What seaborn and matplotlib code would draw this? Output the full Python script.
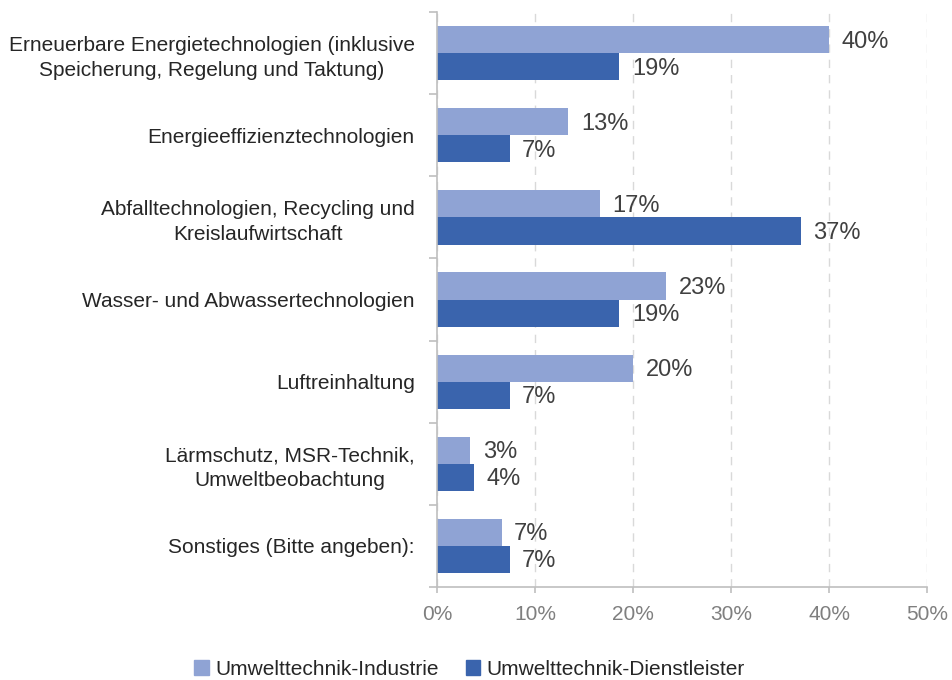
import matplotlib
matplotlib.use('Agg')
import matplotlib.pyplot as plt
from matplotlib.ticker import FixedLocator, PercentFormatter
import seaborn as sns
import pandas as pd
import numpy as np

categories = [
    "Erneuerbare Energietechnologien (inklusive\nSpeicherung, Regelung und Taktung)",
    "Energieeffizienztechnologien",
    "Abfalltechnologien, Recycling und\nKreislaufwirtschaft",
    "Wasser- und Abwassertechnologien",
    "Luftreinhaltung",
    "Lärmschutz, MSR-Technik,\nUmweltbeobachtung",
    "Sonstiges (Bitte angeben):",
]
industrie = [40.0, 13.4, 16.6, 23.4, 20.0, 3.4, 6.6]
dienstleister = [18.6, 7.4, 37.1, 18.6, 7.4, 3.8, 7.4]
series_names = ["Umwelttechnik-Industrie", "Umwelttechnik-Dienstleister"]
x_ticks = [0, 10, 20, 30, 40, 50]

df = pd.DataFrame({
    "Kategorie": categories * 2,
    "Anteil": industrie + dienstleister,
    "Gruppe": [series_names[0]] * len(categories) + [series_names[1]] * len(categories),
})

sns.set_theme(style="white")
plt.rcParams['font.family'] = ['Liberation Sans', 'DejaVu Sans']

palette = {series_names[0]: "#8fa3d4", series_names[1]: "#3a64ad"}
axis_grey = "#bfbfbf"
text_dark = "#404040"

fig = plt.figure(figsize=(9.52, 6.8), dpi=100)
ax = fig.add_axes([0.459, 0.137, 0.515, 0.845])

sns.barplot(data=df, y="Kategorie", x="Anteil", hue="Gruppe", order=categories,
            hue_order=series_names, palette=palette, orient="h", width=0.66,
            linewidth=0, saturation=1, legend=False, ax=ax)

for cont in ax.containers:
    texts = ax.bar_label(cont, labels=[f"{round(v):.0f}%" for v in cont.datavalues],
                         padding=9, fontsize=17, color=text_dark)
    for t in texts:
        t.xyann = (t.xyann[0], -1.5)  # labels sit a touch lower than bar centre

ax.set_xlim(0, 50)
ax.set_ylim(len(categories) - 0.5, -0.5)
ax.set_xticks(x_ticks)
ax.xaxis.set_major_formatter(PercentFormatter(decimals=0))
ax.set_xlabel("")
ax.set_ylabel("")

# dashed vertical grid
ax.grid(axis="x", linestyle=(0, (6, 5)), color="#d9d9d9", linewidth=1)
ax.set_axisbelow(True)

for s in ["top", "right"]:
    ax.spines[s].set_visible(False)
for s in ["left", "bottom"]:
    ax.spines[s].set_color(axis_grey)
    ax.spines[s].set_linewidth(1.2)

# category boundary ticks on the y axis
ax.yaxis.set_minor_locator(FixedLocator(np.arange(-0.5, len(categories), 1.0)))
ax.tick_params(axis="y", which="major", length=0, pad=16, labelsize=15, labelcolor="#262626")
ax.tick_params(axis="y", which="minor", length=6, width=1.2, color=axis_grey, left=True)
ax.tick_params(axis="x", which="major", length=4, width=1.2, color=axis_grey, bottom=True,
               pad=9, labelsize=15, labelcolor="#7f7f7f")
for lbl in ax.get_yticklabels():
    lbl.set_multialignment("center")
    lbl.set_linespacing(1.35)

handles = [plt.Rectangle((0, 0), 1, 1, color=palette[n]) for n in series_names]
fig.legend(handles, series_names, loc="center", bbox_to_anchor=(0.493, 0.016), ncol=2,
           frameon=False, fontsize=15, handlelength=0.7, handleheight=0.7,
           handletextpad=0.3, columnspacing=1.3, labelcolor="#262626")

fig.savefig("out.png", dpi=100)
